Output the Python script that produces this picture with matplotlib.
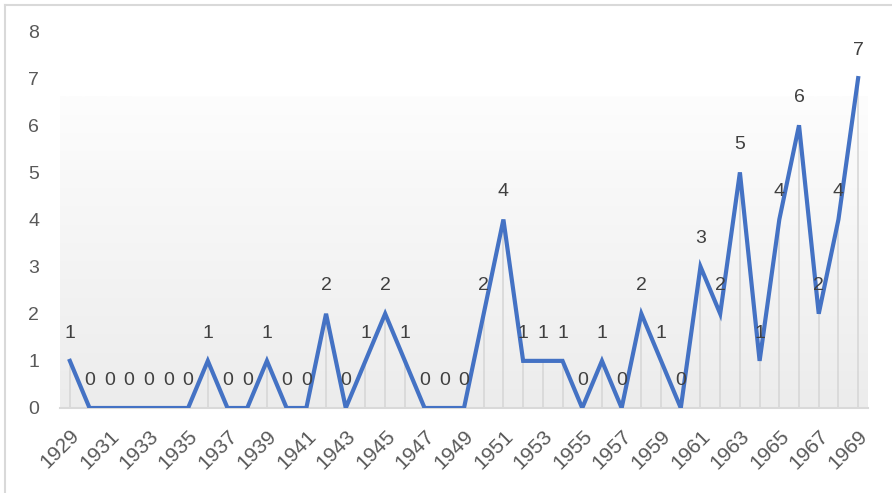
import numpy as np
import matplotlib.pyplot as plt
from matplotlib.colors import LinearSegmentedColormap

plt.rcParams['font.family'] = ['Liberation Sans', 'DejaVu Sans']

years = list(range(1929, 1970))
counts = [1, 0, 0, 0, 0, 0, 0, 1, 0, 0, 1, 0, 0, 2, 0, 1, 2, 1, 0, 0, 0,
          2, 4, 1, 1, 1, 0, 1, 0, 2, 1, 0, 3, 2, 5, 1, 4, 6, 2, 4, 7]
tick_years = years[::2]

line_col = '#4472c4'
text_col = '#595959'
grid_col = '#d9d9d9'

fig = plt.figure(figsize=(8.92, 4.93), dpi=100)
ax = fig.add_axes([60 / 892, 85 / 493, 808 / 892, 377 / 493])

# soft grey gradient behind the series
grad = np.linspace(0, 1, 256).reshape(-1, 1)
cmap = LinearSegmentedColormap.from_list('bg', ['#ececec', '#fdfdfd'])
ax.imshow(grad, cmap=cmap, origin='lower', aspect='auto',
          extent=(1928.5, 1969.5, 0, 6.6), zorder=0)

# drop lines from each point to the axis
ax.vlines(years, 0, counts, color=grid_col, lw=1.3, zorder=1)
ax.plot(years, counts, color=line_col, lw=3.0, solid_joinstyle='miter', zorder=3)

for x, y in zip(years, counts):
    ax.annotate(str(y), (x, y), xytext=(0, 20), textcoords='offset points',
                ha='center', va='center', fontsize=14, color='#404040', zorder=4)

ax.set_xlim(1928.5, 1969.5)
ax.set_ylim(0, 8)
ax.set_yticks(range(0, 9))
ax.set_xticks(tick_years)
ax.set_xticklabels([str(y) for y in tick_years], rotation=45, ha='right',
                   rotation_mode='anchor')
ax.tick_params(axis='y', length=0, pad=15, labelsize=14, labelcolor=text_col)
ax.tick_params(axis='x', length=0, pad=13, labelsize=15, labelcolor=text_col)
for side in ['left', 'right', 'top']:
    ax.spines[side].set_visible(False)
ax.spines['bottom'].set_color(grid_col)
ax.spines['bottom'].set_linewidth(1.5)
ax.spines['bottom'].set_zorder(2)

# thin frame on the top and left edges of the figure
fig.add_artist(plt.Line2D([5 / 892, 5 / 892], [0, 1 - 5 / 493], color='#d9d9d9', lw=1.5))
fig.add_artist(plt.Line2D([5 / 892, 1], [1 - 5 / 493, 1 - 5 / 493], color='#d9d9d9', lw=1.5))

fig.savefig('out.png', dpi=100)
